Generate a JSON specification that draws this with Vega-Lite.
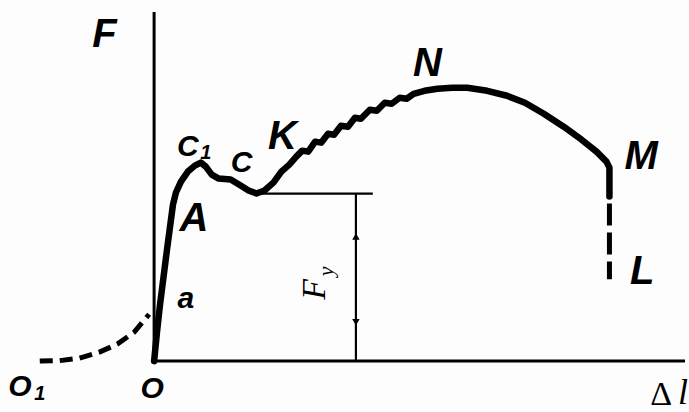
{
  "$schema": "https://vega.github.io/schema/vega-lite/v6.json",
  "width": 689,
  "height": 412,
  "autosize": {"type": "fit", "contains": "padding"},
  "padding": 0,
  "background": "#fdfdfd",
  "config": {"view": {"stroke": null}},
  "datasets": {
    "curve": [
      {"i": 0, "dl": 0.0, "f": 0.0},
      {"i": 1, "dl": 0.3, "f": 3.0},
      {"i": 2, "dl": 0.6, "f": 5.7},
      {"i": 3, "dl": 1.3, "f": 11.2},
      {"i": 4, "dl": 1.9, "f": 15.7},
      {"i": 5, "dl": 2.2, "f": 16.9},
      {"i": 6, "dl": 2.7, "f": 18.0},
      {"i": 7, "dl": 3.4, "f": 19.0},
      {"i": 8, "dl": 4.1, "f": 19.6},
      {"i": 9, "dl": 4.7, "f": 19.9},
      {"i": 10, "dl": 5.2, "f": 19.5},
      {"i": 11, "dl": 5.8, "f": 18.7},
      {"i": 12, "dl": 6.5, "f": 18.3},
      {"i": 13, "dl": 7.7, "f": 18.2},
      {"i": 14, "dl": 8.7, "f": 17.6},
      {"i": 15, "dl": 9.5, "f": 17.1},
      {"i": 16, "dl": 10.3, "f": 16.8},
      {"i": 17, "dl": 11.1, "f": 17.1},
      {"i": 18, "dl": 12.0, "f": 17.9},
      {"i": 19, "dl": 12.8, "f": 19.0},
      {"i": 20, "dl": 13.6, "f": 19.7},
      {"i": 21, "dl": 14.3, "f": 20.5},
      {"i": 22, "dl": 14.9, "f": 21.1},
      {"i": 23, "dl": 15.5, "f": 21.0},
      {"i": 24, "dl": 16.2, "f": 22.0},
      {"i": 25, "dl": 16.8, "f": 21.9},
      {"i": 26, "dl": 17.5, "f": 22.8},
      {"i": 27, "dl": 18.1, "f": 22.7},
      {"i": 28, "dl": 18.8, "f": 23.6},
      {"i": 29, "dl": 19.5, "f": 23.5},
      {"i": 30, "dl": 20.2, "f": 24.4},
      {"i": 31, "dl": 20.8, "f": 24.3},
      {"i": 32, "dl": 21.7, "f": 25.2},
      {"i": 33, "dl": 22.4, "f": 25.1},
      {"i": 34, "dl": 23.2, "f": 25.9},
      {"i": 35, "dl": 23.9, "f": 25.8},
      {"i": 36, "dl": 24.7, "f": 26.4},
      {"i": 37, "dl": 25.4, "f": 26.3},
      {"i": 38, "dl": 26.1, "f": 26.8},
      {"i": 39, "dl": 27.2, "f": 27.1},
      {"i": 40, "dl": 28.5, "f": 27.3},
      {"i": 41, "dl": 30.0, "f": 27.4},
      {"i": 42, "dl": 31.5, "f": 27.4},
      {"i": 43, "dl": 33.5, "f": 27.1},
      {"i": 44, "dl": 35.5, "f": 26.6},
      {"i": 45, "dl": 37.3, "f": 25.9},
      {"i": 46, "dl": 39.2, "f": 24.8},
      {"i": 47, "dl": 41.2, "f": 23.5},
      {"i": 48, "dl": 43.0, "f": 22.2},
      {"i": 49, "dl": 44.5, "f": 21.0},
      {"i": 50, "dl": 45.5, "f": 20.0},
      {"i": 51, "dl": 45.8, "f": 19.4},
      {"i": 52, "dl": 45.8, "f": 16.5}
    ],
    "rupture": [
      {"i": 0, "dl": 45.8, "f": 15.8},
      {"i": 1, "dl": 45.8, "f": 8.2}
    ],
    "slack": [
      {"i": 0, "dl": -11.5, "f": 0.0},
      {"i": 1, "dl": -9.5, "f": 0.05},
      {"i": 2, "dl": -7.5, "f": 0.3},
      {"i": 3, "dl": -5.5, "f": 0.9},
      {"i": 4, "dl": -3.7, "f": 1.7},
      {"i": 5, "dl": -2.0, "f": 2.9},
      {"i": 6, "dl": -0.5, "f": 4.7}
    ],
    "axes": [
      {"x": 0, "y": 0, "x2": 0, "y2": 35.0},
      {"x": 0, "y": 0, "x2": 53.4, "y2": 0}
    ],
    "dims": [
      {"x": 10.0, "y": 16.8, "x2": 22.0, "y2": 16.8},
      {"x": 20.3, "y": 16.8, "x2": 20.3, "y2": 0}
    ],
    "arrows": [
      {"dl": 20.3, "f": 12.5, "dir": "up"},
      {"dl": 20.3, "f": 3.9, "dir": "down"}
    ],
    "bigLabels": [
      {"t": "F", "dl": -5.0, "f": 32.7},
      {"t": "K", "dl": 12.9, "f": 22.5},
      {"t": "N", "dl": 27.5, "f": 29.8},
      {"t": "M", "dl": 49.0, "f": 20.5},
      {"t": "L", "dl": 49.1, "f": 8.9},
      {"t": "A", "dl": 4.0, "f": 14.2}
    ],
    "smallLabels": [
      {"t": "C", "dl": 3.4, "f": 21.5},
      {"t": "C", "dl": 8.8, "f": 19.9},
      {"t": "a", "dl": 3.2, "f": 6.2},
      {"t": "O", "dl": -0.2, "f": -2.8},
      {"t": "O", "dl": -13.5, "f": -2.6}
    ],
    "indices": [
      {"t": "1", "dl": 5.2, "f": 20.9},
      {"t": "1", "dl": -11.5, "f": -3.3}
    ]
  },
  "encoding": {
    "x": {"field": "dl", "type": "quantitative", "scale": {"domain": [-15.5, 53.4], "nice": false, "zero": false}, "axis": null},
    "y": {"field": "f", "type": "quantitative", "scale": {"domain": [-5, 36.2], "nice": false, "zero": false}, "axis": null}
  },
  "layer": [
    {
      "data": {"name": "axes"},
      "mark": {"type": "rule", "color": "#000", "strokeWidth": 3},
      "encoding": {
        "x": {"field": "x", "type": "quantitative"},
        "y": {"field": "y", "type": "quantitative"},
        "x2": {"field": "x2"},
        "y2": {"field": "y2"}
      }
    },
    {
      "data": {"name": "dims"},
      "mark": {"type": "rule", "color": "#000", "strokeWidth": 2.2},
      "encoding": {
        "x": {"field": "x", "type": "quantitative"},
        "y": {"field": "y", "type": "quantitative"},
        "x2": {"field": "x2"},
        "y2": {"field": "y2"}
      }
    },
    {
      "data": {"name": "arrows"},
      "mark": {"type": "point", "filled": true, "color": "#000", "opacity": 1, "size": 55},
      "encoding": {
        "shape": {"field": "dir", "type": "nominal", "scale": {"domain": ["up", "down"], "range": ["triangle-up", "triangle-down"]}, "legend": null}
      }
    },
    {
      "data": {"name": "slack"},
      "mark": {"type": "line", "color": "#000", "strokeWidth": 5, "strokeDash": [13, 7], "strokeCap": "butt"},
      "encoding": {"order": {"field": "i"}}
    },
    {
      "data": {"name": "curve"},
      "mark": {"type": "line", "color": "#000", "strokeWidth": 6.5, "strokeCap": "round", "strokeJoin": "round"},
      "encoding": {"order": {"field": "i"}}
    },
    {
      "data": {"name": "rupture"},
      "mark": {"type": "line", "color": "#000", "strokeWidth": 5, "strokeDash": [22, 7], "strokeCap": "butt"},
      "encoding": {"order": {"field": "i"}}
    },
    {
      "data": {"name": "bigLabels"},
      "mark": {"type": "text", "font": "Liberation Sans", "fontWeight": "bold", "fontStyle": "italic", "fontSize": 40, "color": "#000", "baseline": "middle", "align": "center"},
      "encoding": {"text": {"field": "t"}}
    },
    {
      "data": {"name": "smallLabels"},
      "mark": {"type": "text", "font": "Liberation Sans", "fontWeight": "bold", "fontStyle": "italic", "fontSize": 30, "color": "#000", "baseline": "middle", "align": "center"},
      "encoding": {"text": {"field": "t"}}
    },
    {
      "data": {"name": "indices"},
      "mark": {"type": "text", "font": "Liberation Sans", "fontWeight": "bold", "fontStyle": "italic", "fontSize": 20, "color": "#000", "baseline": "middle", "align": "center"},
      "encoding": {"text": {"field": "t"}}
    },
    {
      "data": {"values": [{"t": "F", "dl": 16.2, "f": 7.2}]},
      "mark": {"type": "text", "font": "Liberation Serif", "fontStyle": "italic", "fontSize": 34, "angle": 270, "color": "#000", "baseline": "middle", "align": "center"},
      "encoding": {"text": {"field": "t"}}
    },
    {
      "data": {"values": [{"t": "y", "dl": 17.3, "f": 9.0}]},
      "mark": {"type": "text", "font": "Liberation Serif", "fontStyle": "italic", "fontSize": 22, "angle": 270, "color": "#000", "baseline": "middle", "align": "center"},
      "encoding": {"text": {"field": "t"}}
    },
    {
      "data": {"values": [{"t": "Δ", "dl": 51.0, "f": -3.4}]},
      "mark": {"type": "text", "font": "Liberation Serif", "fontSize": 34, "color": "#000", "baseline": "middle", "align": "center"},
      "encoding": {"text": {"field": "t"}}
    },
    {
      "data": {"values": [{"t": "l", "dl": 53.2, "f": -3.2}]},
      "mark": {"type": "text", "font": "Liberation Serif", "fontStyle": "italic", "fontSize": 36, "color": "#000", "baseline": "middle", "align": "center"},
      "encoding": {"text": {"field": "t"}}
    }
  ]
}
